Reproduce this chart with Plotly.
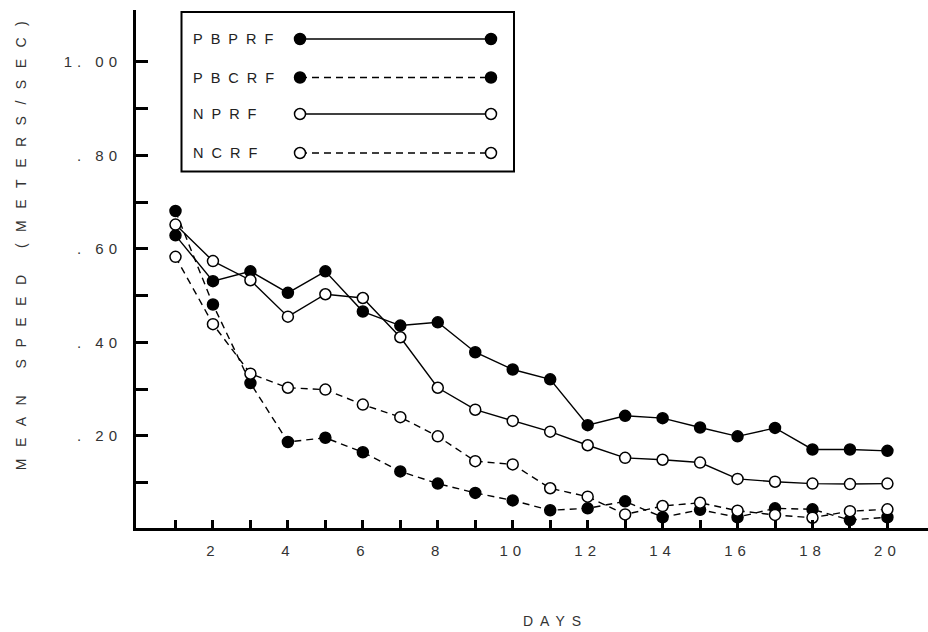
import json
import plotly.graph_objects as go

# ---------------- data ----------------
days = list(range(1, 21))
pbprf = [0.629, 0.531, 0.552, 0.506, 0.552, 0.466, 0.436, 0.443, 0.379, 0.342,
         0.321, 0.223, 0.243, 0.238, 0.218, 0.199, 0.217, 0.171, 0.171, 0.168]
pbcrf = [0.681, 0.481, 0.313, 0.187, 0.196, 0.165, 0.124, 0.098, 0.078, 0.062,
         0.041, 0.045, 0.060, 0.026, 0.042, 0.026, 0.045, 0.043, 0.020, 0.026]
nprf = [0.652, 0.574, 0.533, 0.455, 0.503, 0.495, 0.411, 0.303, 0.256, 0.232,
        0.209, 0.180, 0.153, 0.149, 0.143, 0.108, 0.102, 0.098, 0.097, 0.098]
ncrf = [0.583, 0.439, 0.333, 0.303, 0.299, 0.267, 0.240, 0.199, 0.146, 0.139,
        0.088, 0.070, 0.032, 0.050, 0.057, 0.040, 0.031, 0.025, 0.039, 0.043]
series_names = ["PBPRF", "PBCRF", "NPRF", "NCRF"]
series_values = [pbprf, pbcrf, nprf, ncrf]

x_tick_labels = ["" if d % 2 else str(d) for d in days]
y_tick_vals = [0.1, 0.2, 0.3, 0.4, 0.5, 0.6, 0.7, 0.8, 0.9, 1.0]
y_tick_labels = ["", ". 20", "", ". 40", "", ". 60", "", ". 80", "", "1. 00"]

# ---------------- styles ----------------
filled = [True, True, False, False]
dashes = ["solid", "7px,5px", "solid", "7px,5px"]
FONT = "Liberation Sans"
LEGEND_SPACING = 8

fig = go.Figure()
for name, vals, fl, dash in zip(series_names, series_values, filled, dashes):
    fig.add_trace(go.Scatter(
        x=days, y=vals, name=name, mode="lines+markers",
        line=dict(color="black", width=1.4, dash=dash),
        marker=dict(size=11, color="black" if fl else "white",
                    line=dict(color="black", width=1.5)),
        showlegend=False, hoverinfo="skip"))

# ---------------- custom legend (in pixel-like overlay axes) ----------------
legend_rows = [39, 77.5, 114, 153]
legend_x = [300, 491]
for name, row, fl, dash in zip(series_names, legend_rows, filled, dashes):
    fig.add_trace(go.Scatter(
        x=legend_x, y=[row, row], mode="lines+markers",
        xaxis="x2", yaxis="y2",
        line=dict(color="black", width=1.4, dash=dash),
        marker=dict(size=11, color="black" if fl else "white",
                    line=dict(color="black", width=1.5)),
        showlegend=False, hoverinfo="skip"))

annotations = []
for name, row in zip(series_names, legend_rows):
    annotations.append(dict(
        x=191 + len(name) * LEGEND_SPACING / 2, y=row, xref="x2", yref="y2",
        text=name, showarrow=False, xanchor="left", yanchor="middle",
        font=dict(family=FONT, size=14.5, color="#222")))

# axis titles
annotations.append(dict(
    x=(21 - 136) / 792, y=(528 - 240) / 518, xref="paper", yref="paper",
    text="MEAN SPEED (METERS/SEC)", showarrow=False, textangle=-90,
    xanchor="center", yanchor="middle",
    font=dict(family=FONT, size=14, color="#333")))
annotations.append(dict(
    x=(555 - 136) / 792, y=(528 - 621) / 518, xref="paper", yref="paper",
    text="DAYS", showarrow=False, xanchor="center", yanchor="middle",
    font=dict(family=FONT, size=14, color="#333")))

fig.update_layout(
    width=928, height=632,
    margin=dict(l=136, r=0, t=10, b=104, pad=0),
    paper_bgcolor="white", plot_bgcolor="white",
    showlegend=False,
    font=dict(family=FONT, color="#333"),
    xaxis=dict(
        range=[-0.054, 21.083], tickvals=days, ticktext=x_tick_labels,
        ticks="inside", ticklen=8, tickwidth=2.5, tickcolor="black",
        showline=True, linecolor="black", linewidth=3,
        showgrid=False, zeroline=False, ticklabelstandoff=7,
        tickfont=dict(family=FONT, size=15, color="#333")),
    yaxis=dict(
        range=[0.003, 1.111], tickvals=y_tick_vals, ticktext=y_tick_labels,
        ticks="inside", ticklen=12, tickwidth=2.5, tickcolor="black",
        showline=True, linecolor="black", linewidth=3,
        showgrid=False, zeroline=False, ticklabelstandoff=8,
        tickfont=dict(family=FONT, size=15, color="#333")),
    xaxis2=dict(overlaying="x", range=[136, 928], visible=False),
    yaxis2=dict(overlaying="y", range=[528, 10], visible=False),
    annotations=annotations,
    shapes=[dict(type="rect", xref="x2", yref="y2",
                 x0=181.5, x1=514, y0=12, y1=171.5,
                 line=dict(color="black", width=2), fillcolor="rgba(0,0,0,0)")],
)

css = ("html,body{margin:0;padding:0;}"
       ".annotation[data-index='0'] text, .annotation[data-index='1'] text, "
       ".annotation[data-index='2'] text, .annotation[data-index='3'] text"
       "{letter-spacing:" + str(LEGEND_SPACING) + "px}"
       ".annotation[data-index='4'] text{letter-spacing:11.5px}"
       ".annotation[data-index='5'] text{letter-spacing:7px}"
       ".xtick text, .ytick text{letter-spacing:5px}")
post = ("var s=document.createElement('style');s.textContent=" + json.dumps(css) +
        ";document.head.appendChild(s);")

fig.write_html("out.html", post_script=post, config={"displayModeBar": False})
